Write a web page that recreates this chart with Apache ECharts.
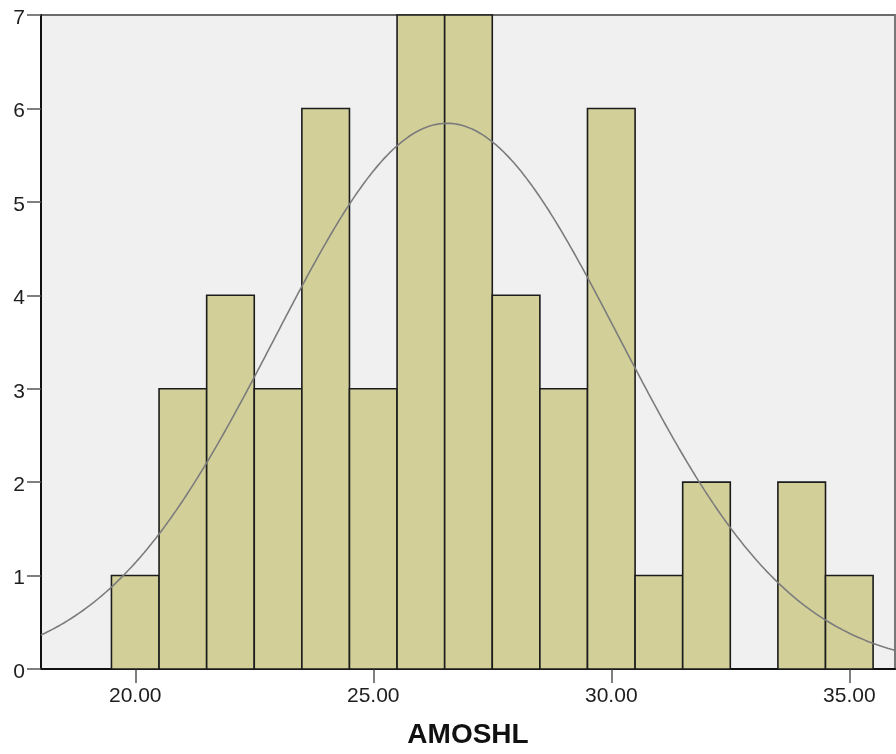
<!DOCTYPE html>
<html>
<head>
<meta charset="utf-8">
<title>AMOSHL histogram</title>
<script src="https://cdn.jsdelivr.net/npm/echarts@6/dist/echarts.min.js"></script>
<style>
  html, body { margin: 0; padding: 0; background: #ffffff; }
  #chart { width: 896px; height: 754px; }
</style>
</head>
<body>
<div id="chart"></div>
<script>
// Histogram bins (width 1) and their frequencies
const binStarts = [19.5, 20.5, 21.5, 22.5, 23.5, 24.5, 25.5, 26.5, 27.5, 28.5, 29.5, 30.5, 31.5, 32.5, 33.5, 34.5];
const binWidth = 1;
const counts    = [1, 3, 4, 3, 6, 3, 7, 7, 4, 3, 6, 1, 2, 0, 2, 1];

// Axis ticks
const xTicks = [20, 25, 30, 35];
const yTicks = [0, 1, 2, 3, 4, 5, 6, 7];

// Normal fit summary
const fitMean = 26.55;
const fitSd = 3.62;
const fitN = 53;

const xMin = 18.02;
const xMax = 35.96;

const barData = binStarts.map((s, i) => [s, s + binWidth, counts[i]]).filter(d => d[2] > 0);

const curveData = [];
for (let x = xMin; x <= xMax + 1e-9; x += 0.04) {
  const z = (x - fitMean) / fitSd;
  const y = fitN * binWidth / (fitSd * Math.sqrt(2 * Math.PI)) * Math.exp(-0.5 * z * z);
  curveData.push([x, y]);
}

const font = '"Liberation Sans", Arial, sans-serif';

const chart = echarts.init(document.getElementById('chart'), null, { renderer: 'canvas' });
chart.setOption({
  animation: false,
  backgroundColor: '#ffffff',
  grid: {
    left: 41, top: 15, width: 854, height: 656,
    show: true,
    backgroundColor: '#F0F0F0',
    borderColor: '#6a6a6a',
    borderWidth: 1.8
  },
  xAxis: {
    type: 'value',
    min: xMin,
    max: xMax,
    name: 'AMOSHL',
    nameLocation: 'middle',
    nameGap: 52,
    nameTextStyle: { fontFamily: font, fontSize: 28, fontWeight: 'bold', color: '#111' },
    axisLine: { show: true, onZero: false, lineStyle: { color: '#111', width: 2 } },
    axisTick: { show: true, customValues: xTicks, length: 14, lineStyle: { color: '#555', width: 1.5 } },
    axisLabel: {
      customValues: xTicks,
      formatter: v => v.toFixed(2),
      fontFamily: font, fontSize: 21, color: '#1e1e1e', margin: 17
    },
    splitLine: { show: false }
  },
  yAxis: {
    type: 'value',
    min: 0,
    max: 7,
    interval: 1,
    axisLine: { show: true, lineStyle: { color: '#111', width: 2 } },
    axisTick: { show: true, length: 14, lineStyle: { color: '#555', width: 1.5 } },
    axisLabel: {
      customValues: yTicks,
      fontFamily: font, fontSize: 21, color: '#1e1e1e', margin: 16,
      verticalAlign: 'top', lineHeight: 6
    },
    splitLine: { show: false }
  },
  series: [
    {
      type: 'custom',
      data: barData,
      encode: { x: [0, 1], y: 2 },
      renderItem: function (params, api) {
        const p0 = api.coord([api.value(0), api.value(2)]);
        const p1 = api.coord([api.value(1), 0]);
        return {
          type: 'rect',
          shape: { x: p0[0], y: p0[1], width: p1[0] - p0[0], height: p1[1] - p0[1] },
          style: { fill: '#D3CF99', stroke: '#1c1c1c', lineWidth: 1.6 }
        };
      },
      z: 2
    },
    {
      type: 'line',
      data: curveData,
      showSymbol: false,
      smooth: false,
      clip: true,
      lineStyle: { color: '#7c7c7c', width: 1.6 },
      z: 3
    }
  ]
});
</script>
</body>
</html>
